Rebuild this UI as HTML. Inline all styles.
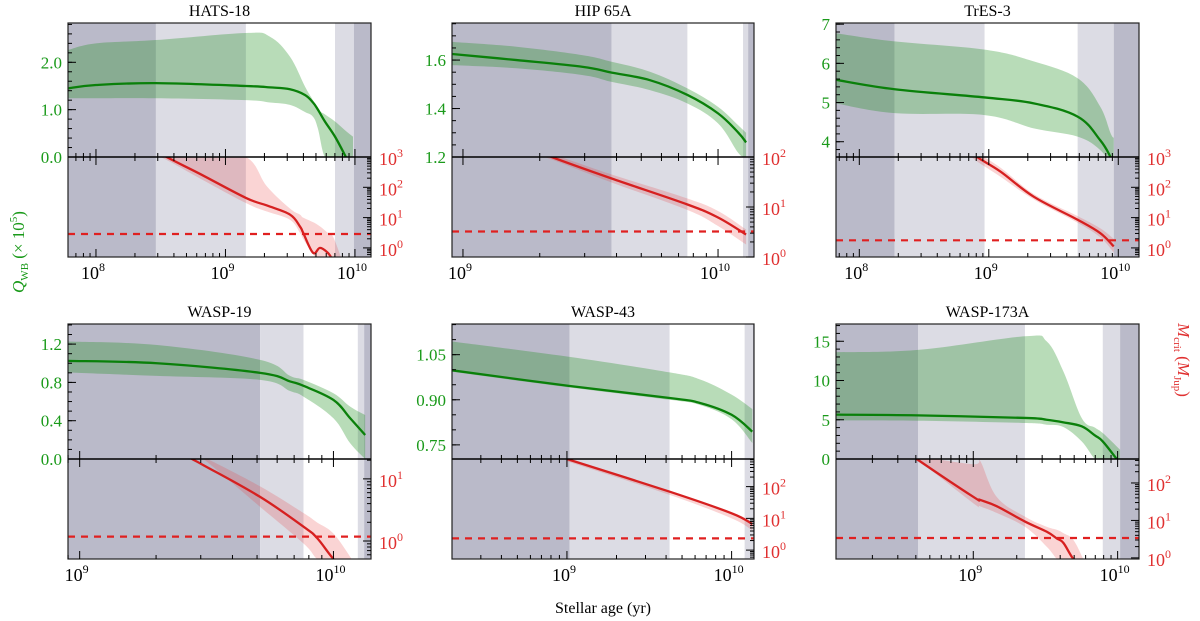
<!DOCTYPE html>
<html><head><meta charset="utf-8">
<style>
html,body{margin:0;padding:0;background:#fff;}
svg{display:block;font-family:"Liberation Serif","DejaVu Serif",serif;}
svg text{font-family:"Liberation Serif","DejaVu Serif",serif;}
</style></head>
<body>
<svg id="chart" width="1200" height="621" viewBox="0 0 1200 621"></svg>
<script>
// ---------- DATA (log10 age in yr; Q in 1e5; Mcrit as log10 Mjup) ----------
const hats18Age = [7.784, 8.0, 8.463, 9.158, 9.344, 9.498, 9.614, 9.676, 9.714, 9.768, 9.846, 9.93, 9.985];
const hats18Q   = [1.45, 1.52, 1.56, 1.50, 1.47, 1.43, 1.31, 1.15, 1.0, 0.75, 0.43, 0.0, -0.3];
const hats18QHi = [2.26, 2.40, 2.47, 2.62, 2.54, 2.12, 1.49, 1.2, 1.0, 0.9, 0.75, 0.55, 0.43];
const hats18QLo = [1.24, 1.24, 1.24, 1.2, 1.15, 1.1, 0.95, 0.85, 0.6, 0.0, 0.0, 0.0, 0.0];
const hats18MAge = [8.3, 8.546, 8.8, 9.158, 9.32, 9.498, 9.575, 9.6, 9.676, 9.73, 9.79, 9.83, 9.9];
const hats18M   = [3.6, 3.0, 2.45, 1.65, 1.4, 1.1, 0.71, 0.5, -0.16, 0.0, -0.16, -0.4, -0.8];
const hats18MHi = [3.0, 3.2, 3.2, 3.0, 2.03, 1.3, 1.1, 1.0, 0.85, 0.71, 0.5, 0.38, -0.4];
const hats18MLo = [3.4, 2.9, 2.3, 1.48, 1.2, 0.93, 0.5, 0.3, -0.2, -0.5, -0.6, -0.7, -0.9];
const hats18Bands = [8.463, 9.158, 9.846, 9.992];
const hats18Crit = 0.46;

const hip65Age = [8.957, 9.21, 9.47, 9.583, 9.733, 9.88, 10.0, 10.08, 10.11];
const hip65Q   = [1.625, 1.6, 1.572, 1.548, 1.517, 1.456, 1.38, 1.30, 1.26];
const hip65QHi = [1.675, 1.655, 1.62, 1.593, 1.552, 1.483, 1.407, 1.33, 1.30];
const hip65QLo = [1.579, 1.566, 1.538, 1.51, 1.476, 1.421, 1.339, 1.216, 1.2];
const hip65MAge = [9.31, 9.348, 9.583, 9.88, 10.0, 10.11];
const hip65M   = [2.1, 2.0, 1.57, 1.05, 0.79, 0.45];
const hip65MHi = [2.0, 2.05, 1.65, 1.17, 0.92, 0.55];
const hip65MLo = [2.0, 1.95, 1.49, 0.94, 0.62, 0.25];
const hip65Bands = [9.583, 9.88, 10.098, 10.118];
const hip65Crit = 0.51;

const tres3Age = [7.82, 8.273, 8.968, 9.347, 9.686, 9.86, 9.94, 9.965];
const tres3Q   = [5.58, 5.34, 5.13, 4.98, 4.64, 4.04, 3.61, 3.4];
const tres3QHi = [6.77, 6.56, 6.35, 6.05, 5.62, 4.9, 4.22, 4.1];
const tres3QLo = [4.98, 4.73, 4.68, 4.34, 4.13, 3.79, 3.4, 3.2];
const tres3MAge = [8.845, 8.91, 9.09, 9.347, 9.686, 9.86, 9.965];
const tres3M   = [3.3, 3.0, 2.52, 1.69, 0.93, 0.49, 0.05];
const tres3MHi = [3.0, 3.1, 2.65, 1.78, 1.05, 0.65, 0.3];
const tres3MLo = [3.1, 2.85, 2.35, 1.6, 0.83, 0.35, -0.15];
const tres3Bands = [8.273, 8.968, 9.686, 9.965];
const tres3Crit = 0.25;

const wasp19Age = [8.954, 9.305, 9.711, 9.829, 9.882, 10.0, 10.066, 10.125];
const wasp19Q   = [1.025, 1.0, 0.90, 0.81, 0.764, 0.617, 0.426, 0.251];
const wasp19QHi = [1.227, 1.19, 1.035, 0.868, 0.826, 0.687, 0.547, 0.46];
const wasp19QLo = [0.903, 0.868, 0.826, 0.71, 0.652, 0.426, 0.164, 0.0];
const wasp19MAge = [9.396, 9.443, 9.488, 9.711, 9.882, 9.935, 10.0, 10.072];
const wasp19M   = [1.45, 1.32, 1.22, 0.71, 0.23, 0.05, -0.29, -0.6];
const wasp19MHi = [1.32, 1.4, 1.35, 0.88, 0.45, 0.3, 0.12, -0.29];
const wasp19MLo = [1.5, 1.4, 1.32, 0.55, -0.04, -0.29, -0.5, -0.8];
const wasp19Bands = [9.711, 9.882, 10.096, 10.121];
const wasp19Crit = 0.07;

const wasp43Age = [8.302, 9.0, 9.624, 9.811, 10.0, 10.126];
const wasp43Q   = [0.998, 0.947, 0.906, 0.889, 0.85, 0.794];
const wasp43QHi = [1.094, 1.044, 0.991, 0.967, 0.917, 0.869];
const wasp43QLo = [0.993, 0.942, 0.90, 0.882, 0.835, 0.756];
const wasp43MAge = [9.0, 9.624, 10.0, 10.126];
const wasp43M   = [2.87, 1.84, 1.16, 0.82];
const wasp43MHi = [2.87, 1.86, 1.2, 0.88];
const wasp43MLo = [2.8, 1.74, 1.0, 0.62];
const wasp43Bands = [9.016, 9.624, 10.079, 10.13];
const wasp43Crit = 0.37;

const wasp173Age = [8.049, 8.617, 9.358, 9.508, 9.624, 9.751, 9.843, 9.897, 9.994, 10.017];
const wasp173Q   = [5.65, 5.56, 5.23, 5.0, 4.67, 4.16, 3.0, 2.24, 0.0, -0.5];
const wasp173QHi = [13.6, 13.9, 15.64, 15.0, 11.17, 5.23, 4.0, 3.31, 1.6, 1.18];
const wasp173QLo = [4.92, 4.88, 4.59, 4.37, 4.08, 2.24, 0.0, 0.0, 0.0, 0.0];
const wasp173MAge = [8.48, 8.608, 9.0, 9.046, 9.162, 9.358, 9.508, 9.578, 9.624, 9.693, 9.762];
const wasp173M   = [3.0, 2.64, 1.63, 1.55, 1.38, 0.97, 0.70, 0.52, 0.40, -0.03, -0.3];
const wasp173MHi = [2.64, 2.7, 2.5, 2.6, 1.63, 1.1, 0.83, 0.75, 0.66, 0.48, -0.03];
const wasp173MLo = [3.0, 2.64, 1.46, 1.38, 1.2, 0.83, 0.3, -0.03, -0.2, -0.4, -0.6];
const wasp173Bands = [8.617, 9.358, 9.897, 10.017];
const wasp173Crit = 0.53;

// tick labels
const hats18QTicks = [0.0, 1.0, 2.0];
const hip65QTicks = [1.2, 1.4, 1.6];
const tres3QTicks = [4, 5, 6, 7];
const wasp19QTicks = [0.0, 0.4, 0.8, 1.2];
const wasp43QTicks = [0.75, 0.90, 1.05];
const wasp173QTicks = [0, 5, 10, 15];
const hats18XTicks = [8, 9, 10];
const hip65XTicks = [9, 10];
const tres3XTicks = [8, 9, 10];
const wasp19XTicks = [9, 10];
const wasp43XTicks = [9, 10];
const wasp173XTicks = [9, 10];
const hats18MTicks = [0, 1, 2, 3];
const hip65MTicks = [0, 1, 2];
const tres3MTicks = [0, 1, 2, 3];
const wasp19MTicks = [0, 1];
const wasp43MTicks = [0, 1, 2];
const wasp173MTicks = [0, 1, 2];

const NS = 'http://www.w3.org/2000/svg';
const FONT = '"Liberation Serif","DejaVu Serif",serif';
const svg = document.getElementById('chart');
function mk(tag, parent){ const e = document.createElementNS(NS, tag); parent.appendChild(e); return e; }
function attr(e, o){ for (const k in o) e.setAttribute(k, o[k]); return e; }
let clipId = 0;

// smooth path through points (Catmull-Rom -> cubic Bezier)
function smooth(pts, start){
  let d = (start ? 'M' : 'L') + pts[0][0].toFixed(2) + ',' + pts[0][1].toFixed(2);
  for (let i = 0; i < pts.length - 1; i++) {
    const p0 = pts[i - 1] || pts[i], p1 = pts[i], p2 = pts[i + 1], p3 = pts[i + 2] || pts[i + 1];
    const t = 0.18;
    const c1 = [p1[0] + (p2[0] - p0[0]) * t, p1[1] + (p2[1] - p0[1]) * t];
    const c2 = [p2[0] - (p3[0] - p1[0]) * t, p2[1] - (p3[1] - p1[1]) * t];
    d += 'C' + c1[0].toFixed(2) + ',' + c1[1].toFixed(2) + ' ' + c2[0].toFixed(2) + ',' + c2[1].toFixed(2) + ' ' + p2[0].toFixed(2) + ',' + p2[1].toFixed(2);
  }
  return d;
}

function drawPanel(p){
  const g = mk('g', svg);
  
  
  g.setAttribute('font-family', FONT);
  const X = v => p.x0 + (v - p.lmin) / (p.lmax - p.lmin) * (p.x1 - p.x0);
  const YQ = v => p.ym - (v - p.qmin) / (p.qmax - p.qmin) * (p.ym - p.yt);
  const YM = v => p.yb - (v - p.mmin) / (p.mmax - p.mmin) * (p.yb - p.ym);

  const t = mk('text', g);
  
  
  attr(t, {x: (p.x0 + p.x1) / 2, y: p.yt - 7, 'text-anchor': 'middle', 'font-size': 16, fill: '#000'});
  t.textContent = p.title;

  const defs = mk('defs', g);
  const cq = 'cq' + (clipId++), cm = 'cm' + (clipId++);
  const c1 = attr(mk('clipPath', defs), {id: cq});
  attr(mk('rect', c1), {x: p.x0, y: p.yt, width: p.x1 - p.x0, height: p.ym - p.yt});
  const c2 = attr(mk('clipPath', defs), {id: cm});
  attr(mk('rect', c2), {x: p.x0, y: p.ym, width: p.x1 - p.x0, height: p.yb - p.ym});

  const edges = [p.lmin].concat(p.bands).concat([p.lmax]);
  const cols = ['#babac9', '#dcdce4', '#ffffff', '#dcdce4', '#babac9'];
  for (let i = 0; i < 5; i++) {
    const r = mk('rect', g);
    
    
    const a = X(edges[i]), b = X(edges[i + 1]);
    attr(r, {x: a, y: p.yt, width: Math.max(0, b - a), height: p.yb - p.yt, fill: cols[i]});
  }

  const qg = attr(mk('g', g), {'clip-path': 'url(#' + cq + ')'});
  const qHiPts = p.age.map((a, i) => [X(a), YQ(p.qHi[i])]);
  const qLoPts = p.age.map((a, i) => [X(a), YQ(p.qLo[i])]).reverse();
  const qb = mk('path', qg);
  
  
  attr(qb, {d: smooth(qHiPts, true) + smooth(qLoPts, false) + 'Z', fill: 'rgb(20,140,20)', 'fill-opacity': 0.3});
  const ql = mk('path', qg);
  
  
  attr(ql, {d: smooth(p.age.map((a, i) => [X(a), YQ(p.q[i])]), true), fill: 'none', stroke: '#0a800a', 'stroke-width': 2.3});

  const mg = attr(mk('g', g), {'clip-path': 'url(#' + cm + ')'});
  const mHiPts = p.mAge.map((a, i) => [X(a), YM(p.mHi[i])]);
  const mLoPts = p.mAge.map((a, i) => [X(a), YM(p.mLo[i])]).reverse();
  const mb = mk('path', mg);
  
  
  attr(mb, {d: smooth(mHiPts, true) + smooth(mLoPts, false) + 'Z', fill: 'rgb(230,60,60)', 'fill-opacity': 0.22});
  const ml = mk('path', mg);
  
  
  attr(ml, {d: smooth(p.mAge.map((a, i) => [X(a), YM(p.m[i])]), true), fill: 'none', stroke: '#d62020', 'stroke-width': 2.3});
  const dl = mk('line', mg);
  
  
  attr(dl, {x1: p.x0, x2: p.x1, y1: YM(p.crit), y2: YM(p.crit), stroke: '#e02020', 'stroke-width': 2.2, 'stroke-dasharray': '7,6'});

  const f = mk('rect', g);
  
  
  attr(f, {x: p.x0, y: p.yt, width: p.x1 - p.x0, height: p.yb - p.yt, fill: 'none', stroke: '#222', 'stroke-width': 1.2});
  const mline = mk('line', g);
  
  
  attr(mline, {x1: p.x0, x2: p.x1, y1: p.ym, y2: p.ym, stroke: '#000', 'stroke-width': 1.5});

  const tick = (x1, y1, x2, y2) => attr(mk('line', g), {x1, y1, x2, y2, stroke: '#000', 'stroke-width': 1});

  for (let d = Math.floor(p.lmin); d <= Math.ceil(p.lmax); d++) {
    for (let k = 1; k <= 9; k++) {
      const lv = d + Math.log10(k);
      if (lv < p.lmin || lv > p.lmax) continue;
      const x = X(lv), L = k === 1 ? 8 : 4;
      tick(x, p.ym, x, p.ym - L); tick(x, p.ym, x, p.ym + L); tick(x, p.yb, x, p.yb - L);
    }
  }
  p.xTicks.forEach(e => {
    const tx = mk('text', g);
    
    
    attr(tx, {x: X(e) - 3, y: p.yb + 22, 'text-anchor': 'middle', 'font-size': 18});
    tx.textContent = '10';
    const sp = mk('tspan', tx); attr(sp, {dy: -8, 'font-size': 12}); sp.textContent = String(e);
  });

  const step = p.qMinor;
  for (let v = Math.ceil(p.qmin / step) * step; v <= p.qmax + 1e-9; v += step) {
    const y = YQ(v);
    if (y < p.yt || y > p.ym) continue;
    tick(p.x0, y, p.x0 + 4, y);
  }
  p.qTicks.forEach(v => {
    const y = YQ(v);
    tick(p.x0, y, p.x0 + 8, y);
    const tx = mk('text', g);
    
    
    attr(tx, {x: p.x0 - 6, y: y + 6, 'text-anchor': 'end', 'font-size': 17, fill: '#1a9a1a'});
    tx.textContent = v.toFixed(p.qDec);
  });

  for (let d = Math.floor(p.mmin); d <= Math.ceil(p.mmax); d++) {
    for (let k = 1; k <= 9; k++) {
      const lv = d + Math.log10(k);
      if (lv < p.mmin || lv > p.mmax) continue;
      const y = YM(lv);
      tick(p.x1, y, p.x1 - (k === 1 ? 8 : 4), y);
    }
  }
  p.mTicks.forEach(e => {
    const tx = mk('text', g);
    
    
    attr(tx, {x: p.x1 + 8, y: YM(e) + 8, 'text-anchor': 'start', 'font-size': 18, fill: '#e03030'});
    tx.textContent = '10';
    const sp = mk('tspan', tx); attr(sp, {dy: -8, 'font-size': 12}); sp.textContent = String(e);
  });
}

const R1 = {yt: 23, ym: 157, yb: 257}, R2 = {yt: 324, ym: 459, yb: 559};
drawPanel(Object.assign({key: 'hats-18', title: 'HATS-18', x0: 68, x1: 371, lmin: 7.784, lmax: 10.124, qmin: 0, qmax: 2.83, mmin: -0.3, mmax: 3.0, qMinor: 0.2, qDec: 1,
  age: hats18Age, q: hats18Q, qHi: hats18QHi, qLo: hats18QLo, mAge: hats18MAge, m: hats18M, mHi: hats18MHi, mLo: hats18MLo, bands: hats18Bands, crit: hats18Crit,
  qTicks: hats18QTicks, xTicks: hats18XTicks, mTicks: hats18MTicks}, R1));
drawPanel(Object.assign({key: 'hip-65a', title: 'HIP 65A', x0: 452, x1: 754, lmin: 8.957, lmax: 10.141, qmin: 1.2, qmax: 1.753, mmin: 0, mmax: 2, qMinor: 0.05, qDec: 1,
  age: hip65Age, q: hip65Q, qHi: hip65QHi, qLo: hip65QLo, mAge: hip65MAge, m: hip65M, mHi: hip65MHi, mLo: hip65MLo, bands: hip65Bands, crit: hip65Crit,
  qTicks: hip65QTicks, xTicks: hip65XTicks, mTicks: hip65MTicks}, R1));
drawPanel(Object.assign({key: 'tres-3', title: 'TrES-3', x0: 836, x1: 1139, lmin: 7.82, lmax: 10.16, qmin: 3.61, qmax: 7.03, mmin: -0.3, mmax: 3.0, qMinor: 0.2, qDec: 0,
  age: tres3Age, q: tres3Q, qHi: tres3QHi, qLo: tres3QLo, mAge: tres3MAge, m: tres3M, mHi: tres3MHi, mLo: tres3MLo, bands: tres3Bands, crit: tres3Crit,
  qTicks: tres3QTicks, xTicks: tres3XTicks, mTicks: tres3MTicks}, R1));
drawPanel(Object.assign({key: 'wasp-19', title: 'WASP-19', x0: 68, x1: 371, lmin: 8.954, lmax: 10.148, qmin: 0, qmax: 1.41, mmin: -0.29, mmax: 1.32, qMinor: 0.1, qDec: 1,
  age: wasp19Age, q: wasp19Q, qHi: wasp19QHi, qLo: wasp19QLo, mAge: wasp19MAge, m: wasp19M, mHi: wasp19MHi, mLo: wasp19MLo, bands: wasp19Bands, crit: wasp19Crit,
  qTicks: wasp19QTicks, xTicks: wasp19XTicks, mTicks: wasp19MTicks}, R2));
drawPanel(Object.assign({key: 'wasp-43', title: 'WASP-43', x0: 452, x1: 754, lmin: 8.302, lmax: 10.136, qmin: 0.703, qmax: 1.152, mmin: -0.28, mmax: 2.87, qMinor: 0.05, qDec: 2,
  age: wasp43Age, q: wasp43Q, qHi: wasp43QHi, qLo: wasp43QLo, mAge: wasp43MAge, m: wasp43M, mHi: wasp43MHi, mLo: wasp43MLo, bands: wasp43Bands, crit: wasp43Crit,
  qTicks: wasp43QTicks, xTicks: wasp43XTicks, mTicks: wasp43MTicks}, R2));
drawPanel(Object.assign({key: 'wasp-173a', title: 'WASP-173A', x0: 836, x1: 1139, lmin: 8.049, lmax: 10.148, qmin: 0, qmax: 17.2, mmin: -0.03, mmax: 2.64, qMinor: 1, qDec: 0,
  age: wasp173Age, q: wasp173Q, qHi: wasp173QHi, qLo: wasp173QLo, mAge: wasp173MAge, m: wasp173M, mHi: wasp173MHi, mLo: wasp173MLo, bands: wasp173Bands, crit: wasp173Crit,
  qTicks: wasp173QTicks, xTicks: wasp173XTicks, mTicks: wasp173MTicks}, R2));
</script>
<div style="position:absolute;left:0;top:0;width:1200px;height:621px;pointer-events:none;">
<svg width="1200" height="621" style="position:absolute;left:0;top:0;" font-family="'Liberation Serif',serif">
  <text x="603" y="613" text-anchor="middle" font-size="16" fill="#000">Stellar age (yr)</text>
  <text transform="translate(24,252) rotate(-90)" text-anchor="middle" font-size="17" fill="#1a9a1a"><tspan font-style="italic">Q</tspan><tspan font-size="11" dy="4">WB</tspan><tspan dy="-4"> (× 10</tspan><tspan font-size="11" dy="-7">5</tspan><tspan dy="7">)</tspan></text>
  <text transform="translate(1178,360) rotate(90)" text-anchor="middle" font-size="17" fill="#e03030"><tspan font-style="italic">M</tspan><tspan font-size="11" dy="4">crit</tspan><tspan dy="-4"> (</tspan><tspan font-style="italic">M</tspan><tspan font-size="11" dy="4">Jup</tspan><tspan dy="-4">)</tspan></text>
</svg>
</div>
</body></html>
